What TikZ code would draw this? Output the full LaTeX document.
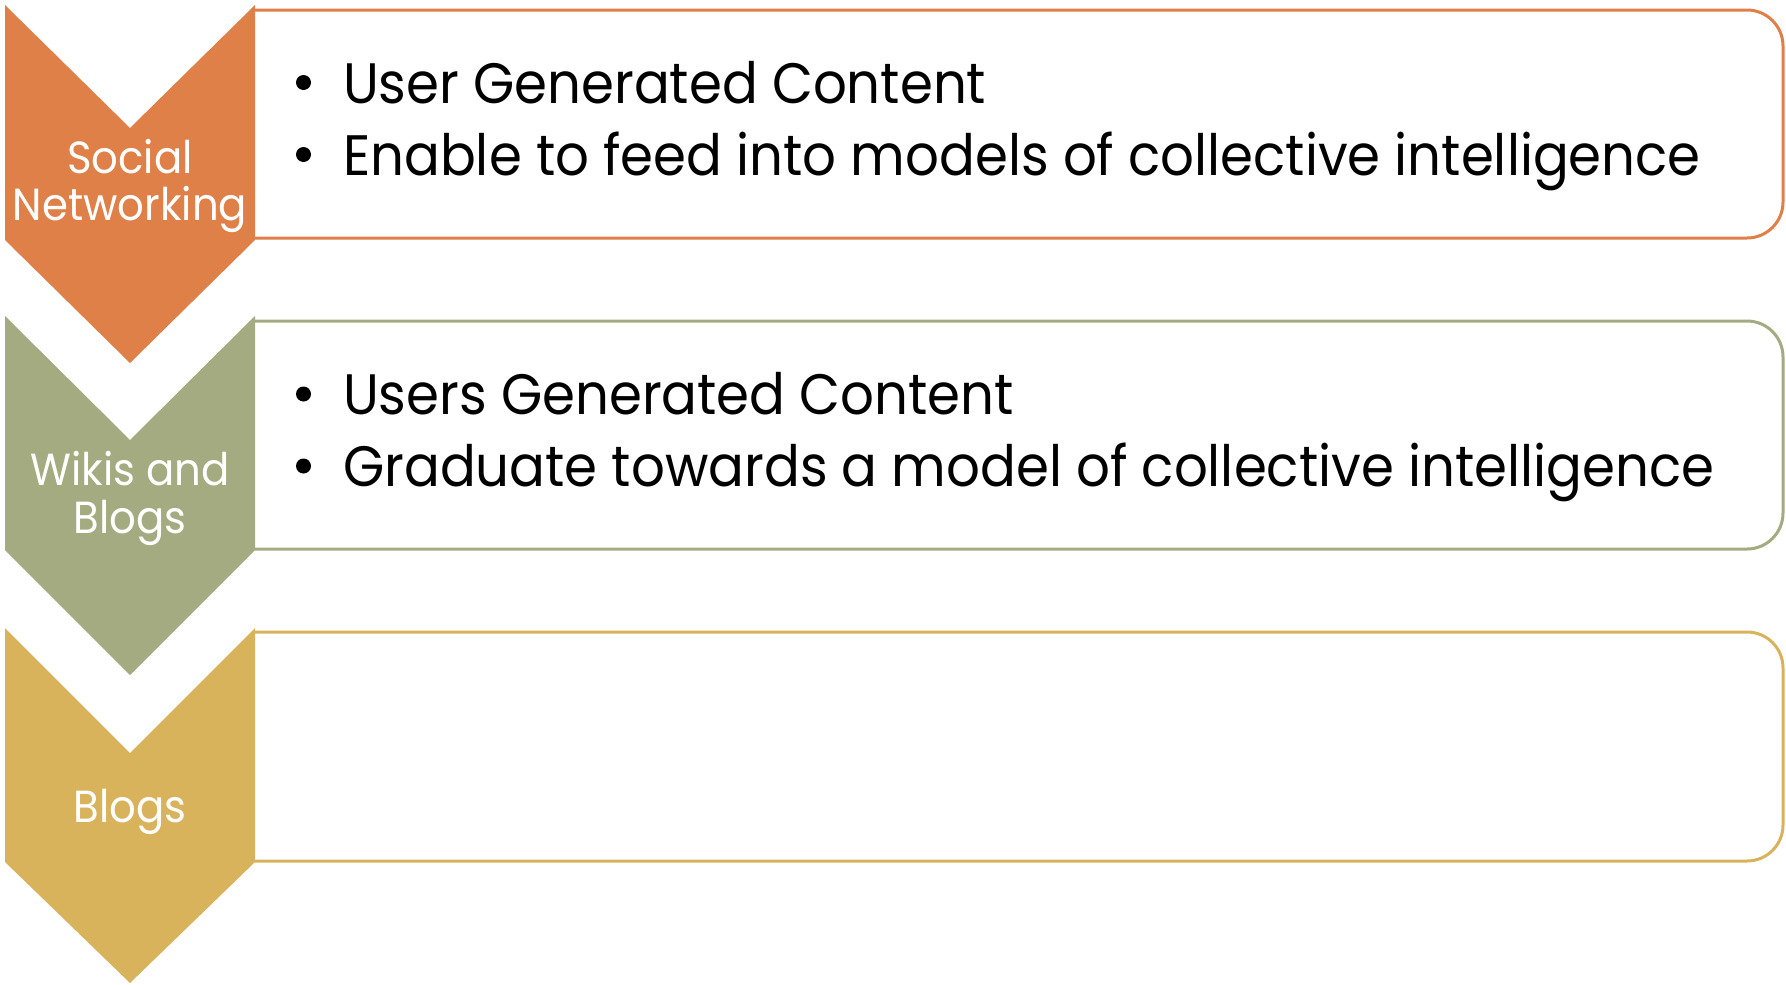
\documentclass[tikz,border=0pt]{standalone}
\usepackage{fontspec}
\setmainfont{Poppins}[FakeStretch=0.93]
\definecolor{corange}{HTML}{DF8048}
\definecolor{cgreen}{HTML}{A4AB80}
\definecolor{cgold}{HTML}{D9B25C}
\begin{document}
\begin{tikzpicture}[x=1pt,y=-1pt,
  chev/.style={fill=#1, draw=none},
  boxline/.style={draw=#1, line width=3pt, rounded corners=36pt},
  lbl/.style={text=white, anchor=base, inner sep=0pt, font=\fontsize{45}{52}\selectfont},
  btxt/.style={anchor=base west, inner sep=0pt, font=\fontsize{57}{68}\selectfont},
  bul/.style={circle, fill=black, minimum size=15pt, inner sep=0pt}]
\useasboundingbox (0,0) rectangle (1786,985);
% chevron 1
\fill[chev=corange] (5,5) -- (130,128) -- (255,5) -- (255,240) -- (130,363) -- (5,240) -- cycle;
\draw[boxline=corange] (255,10) -- (1783,10) -- (1783,238) -- (255,238);
\node[lbl] (l1a) at (130,173) {Social};
\node[lbl] (l1b) at (130,220) {Networking};
\node[bul] (b1a) at (303.5,82.5) {};
\node[btxt] (t1a) at (343,103) {User Generated Content};
\node[bul] (b1b) at (303.5,154.5) {};
\node[btxt] (t1b) at (343,175) {Enable to feed into models of collective intelligence};
% chevron 2
\fill[chev=cgreen] (5,316) -- (130,440) -- (255,316) -- (255,550) -- (130,675) -- (5,550) -- cycle;
\draw[boxline=cgreen] (255,321) -- (1783,321) -- (1783,549) -- (255,549);
\node[lbl] (l2a) at (130,485) {Wikis and};
\node[lbl] (l2b) at (130,533) {Blogs};
\node[bul] (b2a) at (303.5,394) {};
\node[btxt] (t2a) at (343,414.5) {Users Generated Content};
\node[bul] (b2b) at (303.5,466) {};
\node[btxt] (t2b) at (343,486.5) {Graduate towards a model of collective intelligence};
% chevron 3
\fill[chev=cgold] (5,628) -- (130,753) -- (255,628) -- (255,862) -- (130,983) -- (5,862) -- cycle;
\draw[boxline=cgold] (255,632) -- (1783,632) -- (1783,861) -- (255,861);
\node[lbl] (l3a) at (130,822) {Blogs};
\end{tikzpicture}
\end{document}
